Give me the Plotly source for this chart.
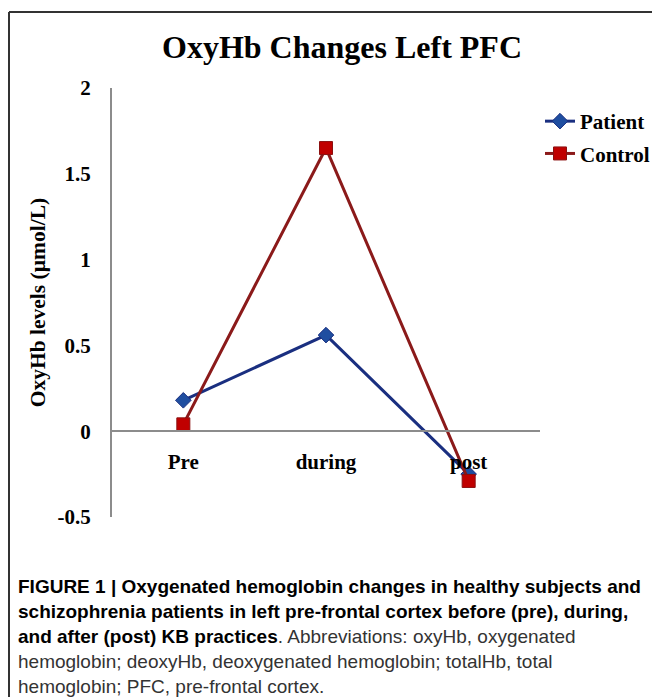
import plotly.graph_objects as go

categories = ["Pre", "during", "post"]
patient = [0.18, 0.56, -0.25]
control = [0.04, 1.65, -0.29]
y_ticks = [-0.5, 0, 0.5, 1, 1.5, 2]
y_tick_labels = ["-0.5", "0", "0.5", "1", "1.5", "2"]
y_range = [-0.5, 2]

# page body has an 8px margin, so the figure is drawn 8px smaller
O = 8
W, H = 660 - O, 697 - O
L, R, T, B = 104, 120, 80, 180
PW, PH = W - L - R, H - T - B

def px(x):
    # x in screen pixels -> paper
    return (x - O - L) / PW

def py(y):
    # y in screen pixels -> paper
    return (H - B - (y - O)) / PH

serif = "Liberation Serif"
sans = "Liberation Sans"

fig = go.Figure()
fig.add_trace(go.Scatter(
    x=categories, y=patient, name="<b>Patient</b>", mode="lines+markers",
    line=dict(color="#1a2f80", width=3),
    marker=dict(symbol="diamond", size=12, color="#1f4ea0", line=dict(color="#1a2f80", width=1)),
    legendgroup="a",
))
fig.add_trace(go.Scatter(
    x=categories, y=control, name="<b>Control</b>", mode="lines+markers",
    line=dict(color="#8b1a1a", width=3),
    marker=dict(symbol="square", size=13, color="#c00000", line=dict(color="#8b1010", width=1)),
    legendgroup="b",
))

zero_pos = (0 - y_range[0]) / (y_range[1] - y_range[0])

fig.update_layout(
    width=W, height=H,
    margin=dict(l=L, r=R, t=T, b=B, autoexpand=False),
    paper_bgcolor="white", plot_bgcolor="white",
    title=dict(text="<b>OxyHb Changes Left PFC</b>", x=(342 - O) / W, xanchor="center",
               xref="container", y=1 - (47 - O) / H, yanchor="middle", yref="container",
               font=dict(family=serif, size=32, color="black")),
    showlegend=True,
    legend=dict(x=px(540), y=py(101), xanchor="left", yanchor="top",
                font=dict(family=serif, size=21, color="black"),
                bgcolor="rgba(0,0,0,0)", tracegroupgap=2, itemwidth=30),
    xaxis=dict(range=[-0.5, 2.5], anchor="free", position=zero_pos,
               showline=True, linecolor="#8c8c8c", linewidth=2,
               showgrid=False, zeroline=False, ticks="", automargin=False,
               tickfont=dict(family=serif, size=21, color="black"),
               ticklabelstandoff=12, fixedrange=True),
    yaxis=dict(range=y_range, tickvals=y_ticks, ticktext=[f"<b>{t}</b>" for t in y_tick_labels],
               showline=True, linecolor="#8c8c8c", linewidth=2,
               showgrid=False, zeroline=False, ticks="", automargin=False,
               tickfont=dict(family=serif, size=21, color="black"),
               ticklabelstandoff=15,
               title=dict(text="<b>OxyHb levels (µmol/L)</b>", standoff=6,
                          font=dict(family=serif, size=21.5, color="black"))),
)
fig.update_xaxes(tickvals=categories, ticktext=[f"<b>{c}</b>" for c in categories])

# frame lines (top and left)
fig.add_shape(type="line", xref="paper", yref="paper", x0=px(9), x1=px(700), y0=py(12), y1=py(12),
              line=dict(color="#333333", width=2))
fig.add_shape(type="line", xref="paper", yref="paper", x0=px(9), x1=px(9), y0=py(12), y1=py(720),
              line=dict(color="#333333", width=2))

caption_lines = [
    "<b>FIGURE 1 | Oxygenated hemoglobin changes in healthy subjects and</b>",
    "<b>schizophrenia patients in left pre-frontal cortex before (pre), during,</b>",
    "<b>and after (post) KB practices</b><span style='color:#333'>. Abbreviations: oxyHb, oxygenated</span>",
    "<span style='color:#333'>hemoglobin; deoxyHb, deoxygenated hemoglobin; totalHb, total</span>",
    "<span style='color:#333'>hemoglobin; PFC, pre-frontal cortex.</span>",
]
caption_y = [586, 611, 636, 661, 686]
for txt, yy in zip(caption_lines, caption_y):
    fig.add_annotation(text=txt, xref="paper", yref="paper", x=px(16), y=py(yy),
                       xanchor="left", yanchor="middle", showarrow=False,
                       font=dict(family=sans, size=19, color="black"))

fig.write_html("out.html")
